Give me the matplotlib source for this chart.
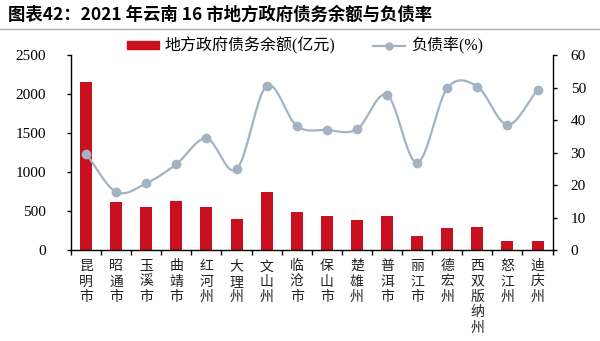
import numpy as np
import matplotlib
matplotlib.use("Agg")
import matplotlib.pyplot as plt
from matplotlib.lines import Line2D

plt.rcParams['font.family'] = ['Liberation Serif', 'Noto Sans CJK SC']

# Cities (labels drawn vertically, one char per line)
cities = ["昆明市", "昭通市", "玉溪市", "曲靖市", "红河州", "大理州", "文山州", "临沧市",
          "保山市", "楚雄州", "普洱市", "丽江市", "德宏州", "西双版纳州", "怒江州", "迪庆州"]
# Debt balance (100 million yuan)
debt = [2150, 620, 560, 629, 552, 403, 744, 496, 441, 390, 437, 185, 284, 297, 121, 121]
# Debt ratio (%)
ratio = [29.7, 18.0, 20.6, 26.5, 34.4, 24.9, 50.5, 38.2, 37.0, 37.2, 47.7, 26.9, 49.8, 50.3, 38.6, 49.3]

bar_color = '#C8101E'
line_color = '#A3B3C3'


# Catmull-Rom style smoothing, only used to render the curve between data points
def smooth_curve(xs, ys, steps=20):
    xs = np.asarray(xs, float)
    ys = np.asarray(ys, float)
    px = np.concatenate([[2 * xs[0] - xs[1]], xs, [2 * xs[-1] - xs[-2]]])
    py = np.concatenate([[2 * ys[0] - ys[1]], ys, [2 * ys[-1] - ys[-2]]])
    out_x, out_y = [], []
    t = np.linspace(0, 1, steps, endpoint=False)
    for i in range(1, len(px) - 2):
        for p, out in ((px, out_x), (py, out_y)):
            p0, p1, p2, p3 = p[i - 1], p[i], p[i + 1], p[i + 2]
            out.extend(0.5 * ((2 * p1) + (-p0 + p2) * t
                              + (2 * p0 - 5 * p1 + 4 * p2 - p3) * t ** 2
                              + (-p0 + 3 * p1 - 3 * p2 + p3) * t ** 3))
    out_x.append(xs[-1])
    out_y.append(ys[-1])
    return np.array(out_x), np.array(out_y)


fig = plt.figure(figsize=(6, 3.41), dpi=100)
ax = fig.add_axes([0.1183, 0.2654, 0.8027, 0.5733])

x = np.arange(len(cities))
ax.bar(x, debt, width=0.4, color=bar_color, zorder=2)
ax.set_xlim(-0.5, len(cities) - 0.5)
ax.set_ylim(0, 2500)
ax.set_yticks(np.arange(0, 2501, 500))
ax.tick_params(axis='y', direction='out', length=3, width=1, labelsize=11, pad=15)
ax.set_xticks(np.arange(-0.5, len(cities), 1.0))
ax.set_xticklabels([])
ax.tick_params(axis='x', direction='out', length=3.5, width=1)
for s in ['top', 'right']:
    ax.spines[s].set_visible(False)
ax.spines['left'].set_linewidth(1)
ax.spines['bottom'].set_linewidth(1)

for i, name in enumerate(cities):
    ax.text(i, -0.045, "\n".join(name), transform=ax.get_xaxis_transform(),
            ha='center', va='top', fontsize=10, linespacing=1.12,
            family=['Noto Sans CJK SC'], color='#222222')

ax2 = ax.twinx()
sx, sy = smooth_curve(x, ratio)
ax2.plot(sx, sy, color=line_color, lw=1.6, zorder=3)
ax2.plot(x, ratio, 'o', color=line_color, ms=6, zorder=4)
ax2.set_ylim(0, 60)
ax2.set_yticks(np.arange(0, 61, 10))
ax2.tick_params(axis='y', direction='out', length=3, width=1, labelsize=11, pad=10)
for s in ['top', 'left', 'bottom']:
    ax2.spines[s].set_visible(False)
ax2.spines['right'].set_linewidth(1)

handles = [plt.Rectangle((0, 0), 1, 1, color=bar_color),
           Line2D([], [], color=line_color, lw=1.6, marker='o', ms=5)]
fig.legend(handles, ["地方政府债务余额(亿元)", "负债率(%)"], ncol=2, frameon=False,
           loc='center', bbox_to_anchor=(0.508, 0.865), fontsize=11.5,
           handlelength=2.0, handleheight=0.4, columnspacing=2.4, handletextpad=0.35)

fig.text(0.013, 0.958, "图表42：2021 年云南 16 市地方政府债务余额与负债率", fontsize=12.5,
         fontweight='bold', ha='left', va='center',
         family=['Noto Sans CJK SC', 'DejaVu Sans'])
fig.add_artist(Line2D([0.0, 1.0], [1 - 28.5 / 341, 1 - 28.5 / 341], color='#AAAAAA',
                      lw=1, transform=fig.transFigure))

fig.savefig("out.png", dpi=100)
